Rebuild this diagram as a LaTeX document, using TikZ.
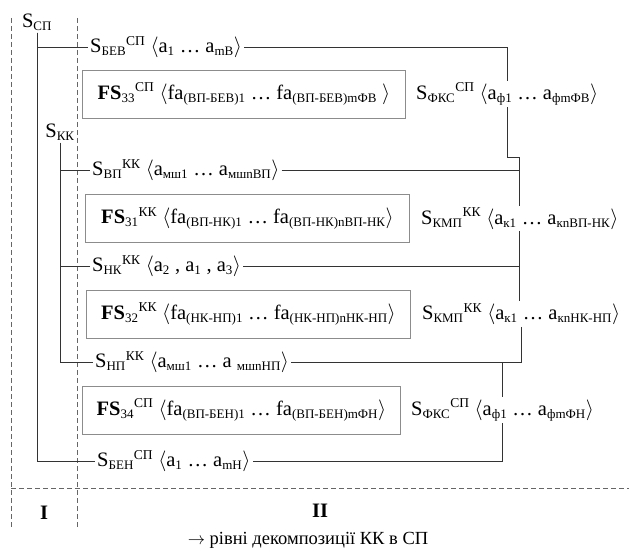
\documentclass[tikz,border=0pt]{standalone}
\usepackage{fontspec}
\setmainfont{Liberation Serif}
\usetikzlibrary{positioning,calc}
\newcommand{\dsize}{\fontsize{20.5}{24}\selectfont}
\newcommand{\lo}[1]{\textsubscript{\fontsize{13}{13}\selectfont #1}}
\newcommand{\hi}[1]{\textsuperscript{\fontsize{13.5}{13.5}\selectfont #1}}
\newcommand{\sx}[2]{S\lo{#1}\hi{#2}}
\newcommand{\ang}[1]{$\langle$#1$\rangle$}
\tikzset{
  lbl/.style={inner sep=2pt, font=\dsize},
  fsbox/.style={lbl, draw=black!45, line width=0.9pt, minimum height=48pt, minimum width=324pt, inner xsep=8pt},
  conn/.style={draw=black!80, line width=0.8pt},
  level/.style={draw=black!60, dash pattern=on 5pt off 3pt, line width=0.7pt}
}
\begin{document}
\begin{tikzpicture}[x=1pt,y=1pt]
  \useasboundingbox (0,0) rectangle (629,552);

  % Level borders
  \draw[level] (11,534) -- (11,24);
  \draw[level] (77,534) -- (77,24);
  \draw[level] (11,64) -- (629,64);

  % System level
  \node[lbl] (ssp) at (37,530) {S\lo{СП}};
  \node[lbl, anchor=west] (sbev) at (88,505) {\sx{БЕВ}{СП} \ang{a\lo{1} … a\lo{mВ}}};
  \node[fsbox, anchor=west, minimum width=323pt] (fs33) at (82,458) {\textbf{FS}\lo{33}\hi{СП} \ang{fa\lo{(ВП-БЕВ)1} … fa\lo{(ВП-БЕВ)mФВ} }};
  \node[lbl, right=8pt of fs33] (fks1) {\sx{ФКС}{СП} \ang{a\lo{ф1} … a\lo{фmФВ}}};

  % Component level
  \node[lbl] (skk) at (60,420) {S\lo{КК}};
  \node[lbl, anchor=west] (svp) at (90,382) {\sx{ВП}{КК} \ang{a\lo{мш1} … a\lo{мшnВП}}};
  \node[fsbox, anchor=west] (fs31) at (85,333.5) {\textbf{FS}\lo{31}\hi{КК} \ang{fa\lo{(ВП-НК)1} … fa\lo{(ВП-НК)nВП-НК}}};
  \node[lbl, right=9pt of fs31] (kmp1) {\sx{КМП}{КК} \ang{a\lo{к1} … a\lo{кnВП-НК}}};
  \node[lbl, anchor=west] (snk) at (90,286) {\sx{НК}{КК} \ang{a\lo{2} , a\lo{1} , a\lo{3}}};
  \node[fsbox, anchor=west] (fs32) at (86,238) {\textbf{FS}\lo{32}\hi{КК} \ang{fa\lo{(НК-НП)1} … fa\lo{(НК-НП)nНК-НП}}};
  \node[lbl, right=9pt of fs32] (kmp2) {\sx{КМП}{КК} \ang{a\lo{к1} … a\lo{кnНК-НП}}};
  \node[lbl, anchor=west] (snp) at (93,190) {\sx{НП}{КК} \ang{a\lo{мш1} … a \lo{мшnНП}}};

  % System level, lower part
  \node[fsbox, anchor=west, minimum width=318pt] (fs34) at (82,142) {\textbf{FS}\lo{34}\hi{СП} \ang{fa\lo{(ВП-БЕН)1} … fa\lo{(ВП-БЕН)mФН}}};
  \node[lbl, right=8pt of fs34] (fks2) {\sx{ФКС}{СП} \ang{a\lo{ф1} … a\lo{фmФН}}};
  \node[lbl, anchor=west] (sben) at (95,91) {\sx{БЕН}{СП} \ang{a\lo{1} … a\lo{mН}}};

  % Spines
  \draw[conn] (ssp.south) |- (sbev.west);
  \draw[conn] (ssp.south) |- (sben.west);
  \draw[conn] (skk.south) |- (snp.west);
  \draw[conn] (skk.south |- svp) -- (svp.west);
  \draw[conn] (skk.south |- snk) -- (snk.west);

  % Right side
  \draw[conn] (sbev.east) -- (sbev.east -| fks1) -- (fks1.north);
  \draw[conn] (fks1.south) |- ($(svp -| kmp1)+(0,13)$) -- (kmp1.north);
  \draw[conn] (svp.east) -- (svp.east -| kmp1);
  \draw[conn] (kmp1.south) -- (kmp1.south |- kmp2.north);
  \draw[conn] (snk.east) -- (snk.east -| kmp1);
  \draw[conn] (kmp2.south) -- (kmp2.south |- snp) -| (fks2.north);
  \draw[conn] (snp.east) -- (snp.east -| kmp2);
  \draw[conn] (fks2.south) |- (sben.east);

  % Level names
  \node[lbl, font=\dsize\bfseries] (lvi) at (44,39) {I};
  \node[lbl, font=\dsize\bfseries] (lvii) at (320,41) {II};
  \node[lbl, font=\fontsize{18.5}{22}\selectfont] (cap) at (308,12) {$\rightarrow$ рівні декомпозиції КК в СП};
\end{tikzpicture}
\end{document}
